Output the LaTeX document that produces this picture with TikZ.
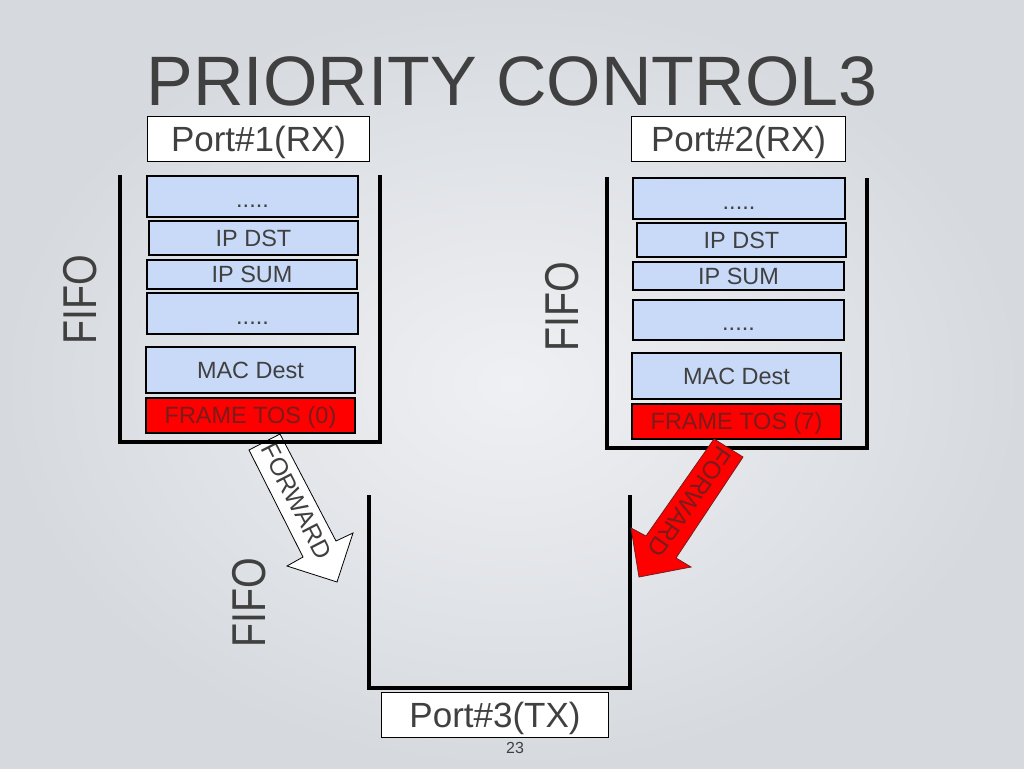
\documentclass[tikz,border=0pt]{standalone}
\usepackage{fontspec}
\setmainfont{Liberation Sans}
\definecolor{fieldblue}{RGB}{201,218,248}
\definecolor{txtgray}{RGB}{64,64,64}
\definecolor{tosred}{RGB}{255,0,0}
\definecolor{tostext}{RGB}{120,28,28}
\definecolor{bginner}{RGB}{239,240,243}
\definecolor{bgouter}{RGB}{214,218,223}
\tikzset{
  sized/.style 2 args={anchor=north west, minimum width=#1*0.75pt, minimum height=#2*0.75pt},
  field/.style={draw=black, line width=1.5pt, fill=fieldblue, inner sep=0pt,
    text=txtgray, font=\fontsize{17.6}{20}\selectfont, text height=12.6pt, text depth=0pt},
  dotsfield/.style={field, text height=16pt},
  tosbox/.style={field, fill=tosred, text=tostext},
  portbox/.style={draw=black, line width=0.8pt, fill=white, inner sep=0pt,
    text=txtgray, font=\fontsize{26.25}{30}\selectfont, text height=18.8pt, text depth=0pt},
  container/.style={line width=2.6pt, line join=miter, draw=black},
  fifolabel/.style={text=txtgray, font=\fontsize{35.6}{40}\selectfont, inner sep=0pt, rotate=90},
  arrowtext/.style={font=\fontsize{18.6}{20}\selectfont, inner sep=0pt, text height=13.3pt, text depth=0pt},
}
\begin{document}
\begin{tikzpicture}[x=0.75pt,y=-0.75pt]
\useasboundingbox (0,0) rectangle (1024,768);
\shade[inner color=bginner, outer color=bgouter] (0,0) rectangle (1024,768);
% title
\node[anchor=base, text=txtgray, font=\fontsize{52.5}{60}\selectfont, inner sep=0pt] (title) at (512,105) {PRIORITY CONTROL3};
% port labels
\node[portbox, sized={222}{45}] (p1) at (147,116) {Port\#1(RX)};
\node[portbox, sized={214}{45}] (p2) at (631,116) {Port\#2(RX)};
% FIFO labels
\node[fifolabel] (fifoL) at (80,300) {\scalebox{0.83}[1]{FIFO}};
\node[fifolabel] (fifoM) at (562,307) {\scalebox{0.83}[1]{FIFO}};
\node[fifolabel] (fifoB) at (249,603) {\scalebox{0.83}[1]{FIFO}};
% left arrow (white), under the container line
\coordinate (wa1) at (249,450);
\coordinate (wa2) at (303,557);
\coordinate (wa3) at (287,566);
\coordinate (wa4) at (337,582);
\coordinate (wa5) at (353,533);
\coordinate (wa6) at (336,541);
\coordinate (wa7) at (280,434);
\draw[fill=white, draw=black, line width=0.6pt, line join=miter] (wa1) -- (wa2) -- (wa3) -- (wa4) -- (wa5) -- (wa6) -- (wa7) -- cycle;
\node[arrowtext, text=txtgray, rotate=-62.8] (fwdL) at (297,501) {FORWARD};
% containers
\draw[container] (120,175) -- (120,442) -- (380,442) -- (380,175);
\draw[container] (607,177) -- (607,448) -- (867,448) -- (867,178);
\draw[container] (369,495) -- (369,688) -- (630,688) -- (630,495);
% left fields
\node[dotsfield, sized={211}{41}] (l1) at (146,175) {.....};
\node[field, sized={209}{34}] (l2) at (148,220) {IP DST};
\node[field, sized={210}{29}] (l3) at (146,259) {IP SUM};
\node[dotsfield, sized={211}{41}] (l4) at (146,292) {.....};
\node[field, sized={209}{46}] (l5) at (145,346) {MAC Dest};
\node[tosbox, sized={209}{35}] (l6) at (145,397) {FRAME TOS (0)};
% right fields
\node[dotsfield, sized={212}{41}] (r1) at (632,177) {.....};
\node[field, sized={209}{34}] (r2) at (636,222) {IP DST};
\node[field, sized={211}{28}] (r3) at (632,261) {IP SUM};
\node[dotsfield, sized={211}{40}] (r4) at (632,299) {.....};
\node[field, sized={209}{46}] (r5) at (631,352) {MAC Dest};
\node[tosbox, sized={209}{35}] (r6) at (631,403) {FRAME TOS (7)};
% right arrow (red)
\coordinate (ra1) at (714,439);
\coordinate (ra2) at (646,536);
\coordinate (ra3) at (631,528);
\coordinate (ra4) at (639,577);
\coordinate (ra5) at (691,567);
\coordinate (ra6) at (676,558);
\coordinate (ra7) at (743,457);
\draw[fill=tosred, draw=tostext, line width=0.6pt, line join=miter] (ra1) -- (ra2) -- (ra3) -- (ra4) -- (ra5) -- (ra6) -- (ra7) -- cycle;
\node[arrowtext, text=tostext, rotate=-124.5] (fwdR) at (690,502) {FORWARD};
% port 3
\node[portbox, sized={227}{45}] (p3) at (381,692) {Port\#3(TX)};
\node[text=txtgray, font=\fontsize{12}{14}\selectfont, inner sep=0pt] (pg) at (515,748) {23};
\end{tikzpicture}
\end{document}
